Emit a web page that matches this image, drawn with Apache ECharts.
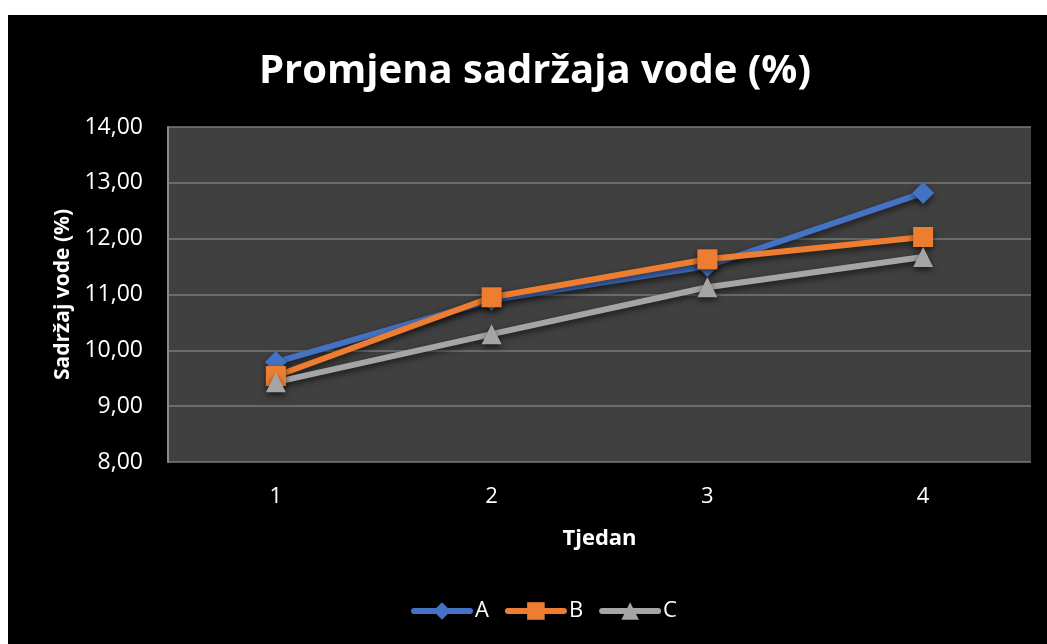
<!DOCTYPE html>
<html>
<head>
<meta charset="utf-8">
<script src="https://cdn.jsdelivr.net/npm/echarts@6/dist/echarts.min.js"></script>
<style>
  html, body { margin: 0; padding: 0; background: #ffffff; }
  #chart { position: absolute; left: 8px; top: 15px; width: 1039px; height: 629px; background: #000000; }
</style>
</head>
<body>
<div id="chart"></div>
<script>
const weeks = ['1', '2', '3', '4']
const seriesA = [9.79, 10.90, 11.51, 12.82]
const seriesB = [9.54, 10.95, 11.63, 12.03]
const seriesC = [9.43, 10.29, 11.13, 11.67]

const fontFamily = "'Open Sans', 'Noto Sans', sans-serif"

const shadow = {
  shadowColor: 'rgba(0,0,0,0.6)',
  shadowBlur: 6,
  shadowOffsetY: 3,
}

function makeSeries(name, data, color, symbol, size) {
  return {
    name: name,
    type: 'line',
    data: data,
    symbol: symbol,
    symbolSize: size,
    lineStyle: { color: color, width: 6, cap: 'round', ...shadow },
    itemStyle: { color: color, borderWidth: 0, ...shadow },
  }
}

const chart = echarts.init(document.getElementById('chart'))
const option = {
  backgroundColor: '#000000',
  textStyle: { fontFamily: fontFamily },
  title: {
    text: 'Promjena sadržaja vode (%)',
    left: 246,
    top: 32,
    textStyle: { color: '#ffffff', fontSize: 40, fontWeight: 'bold', fontFamily: fontFamily },
  },
  legend: {
    data: ['A', 'B', 'C'],
    top: 580,
    left: 398,
    itemWidth: 56,
    itemHeight: 22,
    itemGap: 16,
    textStyle: { color: '#ffffff', fontSize: 22 },
    lineStyle: { width: 6, shadowBlur: 0, shadowOffsetY: 0 },
    itemStyle: { shadowBlur: 0, shadowOffsetY: 0 },
  },
  grid: {
    left: 160,
    right: 16,
    top: 112,
    bottom: 182,
    show: true,
    backgroundColor: '#404040',
    borderWidth: 0,
  },
  xAxis: {
    type: 'category',
    data: weeks,
    boundaryGap: true,
    name: 'Tjedan',
    nameLocation: 'middle',
    nameGap: 66,
    nameTextStyle: { color: '#ffffff', fontSize: 22, fontWeight: 'bold' },
    axisLine: { show: false },
    axisTick: { show: false },
    axisLabel: { color: '#ffffff', fontSize: 22, margin: 24 },
  },
  yAxis: {
    type: 'value',
    min: 8,
    max: 14,
    interval: 1,
    name: 'Sadržaj vode (%)',
    nameLocation: 'middle',
    nameGap: 94,
    nameTextStyle: { color: '#ffffff', fontSize: 21, fontWeight: 'bold' },
    axisLine: { show: true, lineStyle: { color: '#8a8a8a', width: 2 } },
    axisTick: { show: false },
    axisLabel: {
      color: '#ffffff',
      fontSize: 23,
      margin: 25,
      formatter: v => v.toFixed(2).replace('.', ','),
    },
    splitLine: { lineStyle: { color: '#7a7a7a', width: 1.5 } },
  },
  series: [
    makeSeries('A', seriesA, '#4472C4', 'diamond', 22),
    makeSeries('B', seriesB, '#ED7D31', 'rect', 20),
    makeSeries('C', seriesC, '#A5A5A5', 'triangle', 20),
  ],
}
chart.setOption(option)
</script>
</body>
</html>
